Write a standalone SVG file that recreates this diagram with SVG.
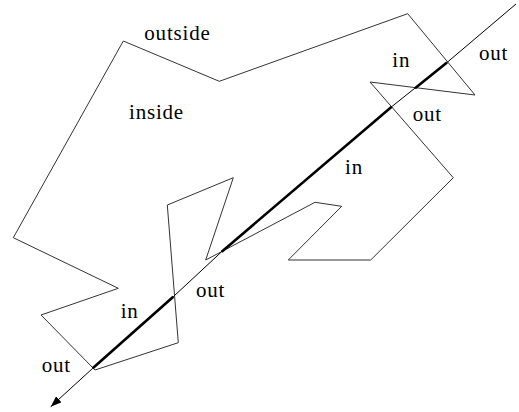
<svg xmlns="http://www.w3.org/2000/svg" width="519" height="412" viewBox="0 0 519 412">
<style>
.poly{fill:none;stroke:#333;stroke-width:1;stroke-linejoin:miter}
.ray{fill:none;stroke:#000;stroke-width:1}
.thick{fill:none;stroke:#000;stroke-width:2.6;stroke-linecap:butt}
.lbl{font-family:"Liberation Serif","Times New Roman",serif;font-size:21px;letter-spacing:0.8px;fill:#000}
</style>
<defs>
<marker id="ah" markerUnits="userSpaceOnUse" markerWidth="12" markerHeight="10" refX="11" refY="4" orient="auto">
<path d="M0,0 L11,4 L0,8 Z" fill="#000"/>
</marker>
</defs>
<rect width="519" height="412" fill="#fff"/>
<g id="polygon">
<path class="poly" d="M123.3,41 L219.3,81.3 L407.7,13.7 L475,95 L370,82 L453.3,177.7 L370.7,260 L288.3,260 L341.7,206.3 L315,202.3 L205.7,260 L233.3,177.7 L167.3,205 L178.3,342.7 L95,370 L41,315 L118.3,288.3 L13.3,237.7 Z"/>
</g>
<g id="connectors">
<path class="ray" d="M516,4 L447,62.5 L391.7,106.7 L221.7,251.7 L173.3,296.7 L92.7,368.3 L50.7,406.7" marker-end="url(#ah)"/>
<path class="thick" d="M447,62.5 L415,88.3"/>
<path class="thick" d="M391.7,106.7 L221.7,251.7"/>
<path class="thick" d="M173.3,296.7 L92.7,368.3"/>
</g>
<g id="labels">
<text class="lbl" x="144.3" y="40">outside</text>
<text class="lbl" x="129" y="119">inside</text>
<text class="lbl" x="392.3" y="66.7">in</text>
<text class="lbl" x="479" y="60">out</text>
<text class="lbl" x="412.7" y="121">out</text>
<text class="lbl" x="345" y="174">in</text>
<text class="lbl" x="196" y="297.3">out</text>
<text class="lbl" x="120.7" y="318.3">in</text>
<text class="lbl" x="41.7" y="371.7">out</text>
</g>
</svg>
